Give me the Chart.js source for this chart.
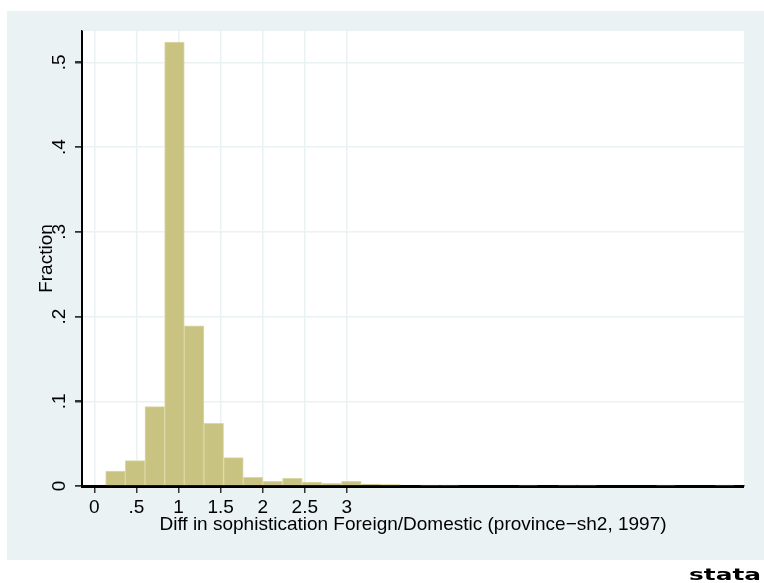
<!DOCTYPE html>
<html>
<head>
<meta charset="utf-8">
<script src="https://cdn.jsdelivr.net/npm/chart.js@4/dist/chart.umd.min.js"></script>
<style>
  html, body { margin: 0; padding: 0; background: #fff; }
  #wrap { width: 764px; height: 583px; }
</style>
</head>
<body>
<div id="wrap"><canvas id="myChart" width="764" height="583"></canvas></div>
<script>
// histogram bins (Stata style: start + width)
const binStart = 0.135;
const binWidth = 0.2334;
const fractions = [
  0.0177, 0.0299, 0.0936, 0.524, 0.189, 0.074, 0.0334, 0.0103,
  0.0055, 0.0091, 0.0047, 0.0032, 0.0055, 0.0024, 0.0016, 0,
  0.0012, 0.0012, 0, 0, 0, 0.0012, 0, 0.0012,
  0.0012, 0, 0, 0, 0.0012, 0, 0, 0.0012
];
const xTicks = [0, 0.5, 1, 1.5, 2, 2.5, 3];
const xTickLabels = ['0', '.5', '1', '1.5', '2', '2.5', '3'];
const yTicks = [0, 0.1, 0.2, 0.3, 0.4, 0.5];
const yTickLabels = ['0', '.1', '.2', '.3', '.4', '.5'];

const points = fractions.map((f, i) => ({ x: binStart + (i + 0.5) * binWidth, y: f }));

const font = { family: 'Liberation Sans, Arial, sans-serif', size: 19 };

const backdrop = {
  id: 'backdrop',
  beforeDraw(chart) {
    const c = chart.ctx;
    const a = chart.chartArea;
    c.save();
    c.fillStyle = '#ffffff';
    c.fillRect(0, 0, chart.width, chart.height);
    c.fillStyle = '#eaf2f3';
    c.fillRect(7, 11, chart.width - 7, 549);
    c.fillStyle = '#ffffff';
    c.fillRect(a.left, a.top, a.right - a.left, a.bottom - a.top);
    c.restore();
  },
  afterDraw(chart) {
    const c = chart.ctx;
    const a = chart.chartArea;
    const y = chart.scales.y;
    c.save();
    // axis lines on top
    c.fillStyle = '#000';
    c.fillRect(81, a.top, 2, a.bottom - a.top + 2);
    c.fillRect(81, a.bottom, a.right - 81, 2);
    // y tick marks
    c.fillStyle = '#333';
    yTicks.forEach(v => {
      const py = Math.round(y.getPixelForValue(v));
      c.fillRect(75, py - 1, 6, 1.5);
    });
    // stata logo
    c.fillStyle = '#000';
    c.font = 'bold 16px DejaVu Sans, sans-serif';
    c.textAlign = 'left';
    c.textBaseline = 'alphabetic';
    const w = c.measureText('stata').width;
    c.translate(689, 580);
    c.scale(72 / w, 1);
    c.fillText('stata', 0, 0);
    c.restore();
  }
};

const ctx = document.getElementById('myChart').getContext('2d');

const myChart = new Chart(ctx, {
  type: 'bar',
  data: {
    datasets: [{
      label: 'Fraction',
      data: points,
      backgroundColor: '#c9c381',
      borderColor: '#dcd8a6',
      borderWidth: 1,
      barPercentage: 1,
      categoryPercentage: 1
    }]
  },
  options: {
    responsive: false,
    animation: false,
    devicePixelRatio: 1,
    layout: { padding: { left: 0, top: 31, right: 20, bottom: 46.6 } },
    plugins: { legend: { display: false }, tooltip: { enabled: false } },
    scales: {
      x: {
        type: 'linear',
        offset: false,
        min: -0.146,
        max: 7.716,
        afterBuildTicks: s => { s.ticks = xTicks.map(v => ({ value: v })); },
        afterFit: s => { s.height = 50.4; },
        ticks: {
          color: '#000',
          font: font,
          padding: 3,
          maxRotation: 0,
          autoSkip: false,
          callback: (v) => xTickLabels[xTicks.indexOf(v)]
        },
        grid: { offset: false, color: '#eaf2f3', lineWidth: 1.5, tickLength: 7, tickColor: '#333', tickWidth: 1.5 },
        border: { display: true, color: '#000', width: 1.5 },
        title: {
          display: true,
          text: 'Diff in sophistication Foreign/Domestic (province\u2212sh2, 1997)',
          color: '#000',
          font: font,
          padding: { top: 0, bottom: 0 }
        }
      },
      y: {
        min: 0,
        max: 0.537,
        afterBuildTicks: s => { s.ticks = yTicks.map(v => ({ value: v })); },
        afterFit: s => { s.width = 82; },
        ticks: {
          color: '#000',
          font: font,
          minRotation: 90,
          maxRotation: 90,
          crossAlign: 'center',
          padding: 7,
          autoSkip: false,
          callback: (v) => yTickLabels[yTicks.indexOf(v)]
        },
        grid: { color: '#eaf2f3', lineWidth: 1.5, tickLength: 7, tickColor: '#333', tickWidth: 1.5 },
        border: { display: true, color: '#000', width: 1.5 },
        title: {
          display: true,
          text: 'Fraction',
          color: '#000',
          font: font,
          padding: { top: 35.6, bottom: 0 }
        }
      }
    }
  },
  plugins: [backdrop]
});
</script>
</body>
</html>
